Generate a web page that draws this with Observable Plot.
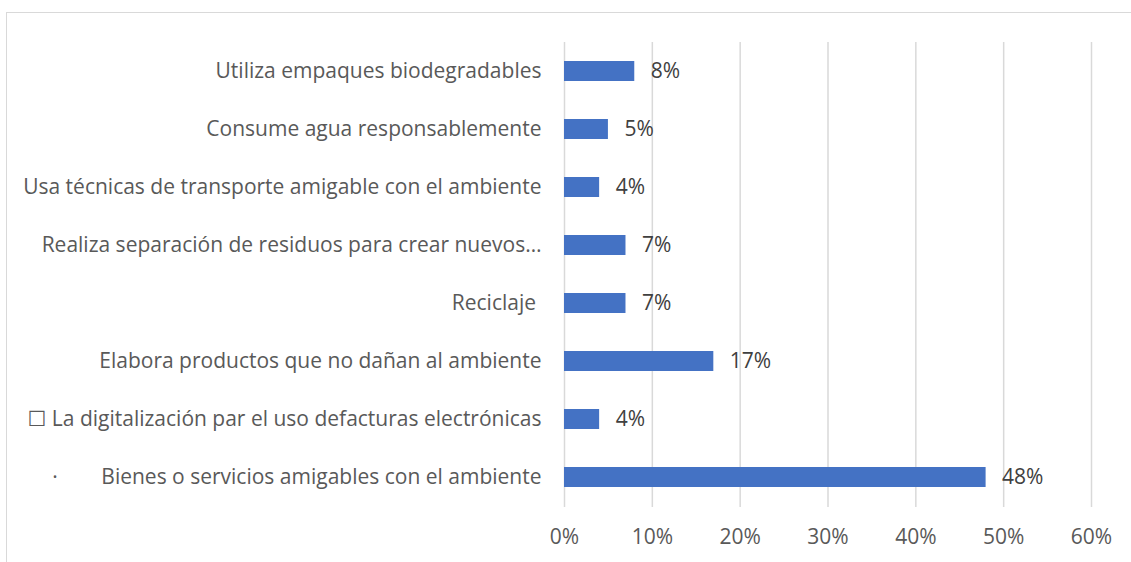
<!DOCTYPE html>
<html>
<head>
<meta charset="utf-8">
<script src="https://cdn.jsdelivr.net/npm/d3@7"></script>
<script src="https://cdn.jsdelivr.net/npm/@observablehq/plot@0.6"></script>
<style>
  html, body { margin: 0; padding: 0; background: #fff; overflow: hidden; width: 1131px; height: 562px; }
  #frame { position: absolute; left: 6px; top: 12px; width: 1200px; height: 700px; border-left: 1.5px solid #d9d9d9; border-top: 1.5px solid #d9d9d9; }
  #chart { position: absolute; left: 0; top: 0; }
  #chart svg { white-space: pre; }
</style>
</head>
<body>
<div id="frame"></div>
<div id="chart"></div>
<script>
const categories = [
  "Utiliza empaques biodegradables",
  "Consume agua responsablemente",
  "Usa técnicas de transporte amigable con el ambiente",
  "Realiza separación de residuos para crear nuevos…",
  "Reciclaje\u00A0",
  "Elabora productos que no dañan al ambiente",
  "\u2610 La digitalización par el uso defacturas electrónicas",
  "·\u00A0\u00A0\u00A0\u00A0\u00A0\u00A0\u00A0\u00A0Bienes o servicios amigables con el ambiente"
];
const values = [0.08, 0.05, 0.04, 0.07, 0.07, 0.17, 0.04, 0.48];
const xTicks = [0, 0.1, 0.2, 0.3, 0.4, 0.5, 0.6];

const data = categories.map((c, i) => ({category: c, value: values[i]}));
const pct = d3.format(".0%");
const font = "'Open Sans', 'DejaVu Sans', sans-serif";
const fs = 21;

const chart = Plot.plot({
  width: 1131,
  height: 562,
  marginLeft: 564,
  marginRight: 40,
  marginTop: 42,
  marginBottom: 55,
  style: {fontFamily: font, fontSize: fs + "px", background: "transparent"},
  x: {domain: [0, 0.6], ticks: xTicks, tickFormat: pct, tickSize: 0, tickPadding: 22, label: null},
  y: {domain: categories, paddingInner: 0.65, paddingOuter: 0.325, tickSize: 0, tickPadding: 23, label: null},
  marks: [
    Plot.ruleX(xTicks, {stroke: "#d9d9d9", strokeWidth: 1.5}),
    Plot.barX(data, {x: "value", y: "category", fill: "#4472C4"}),
    Plot.text(data, {x: "value", y: "category", text: d => pct(d.value), dx: 16, textAnchor: "start", fill: "#404040", fontSize: fs}),
    Plot.axisX({ticks: xTicks, tickFormat: pct, tickSize: 0, tickPadding: 22, fill: "#595959", label: null}),
    Plot.axisY({tickSize: 0, tickPadding: 23, fill: "#595959", label: null})
  ]
});
document.getElementById("chart").appendChild(chart);
</script>
</body>
</html>
